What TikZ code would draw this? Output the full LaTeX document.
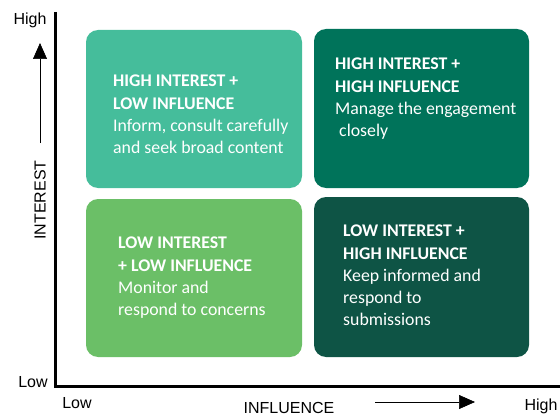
\documentclass[tikz,border=0pt]{standalone}
\usepackage{fontspec}
\setmainfont{Carlito}
\newfontfamily\axisfont{Liberation Sans}
\usetikzlibrary{positioning, arrows.meta}

\definecolor{hiLoCol}{HTML}{45BD9B}
\definecolor{hiHiCol}{HTML}{00735A}
\definecolor{loLoCol}{HTML}{6BBF67}
\definecolor{loHiCol}{HTML}{0E5445}

\begin{document}
\begin{tikzpicture}[x=1pt, y=1pt]
  \tikzstyle{quad}=[rounded corners=12pt, inner sep=0pt, outer sep=0pt, anchor=south west]
  \tikzstyle{quadtxt}=[anchor=north west, inner sep=0pt, align=left, text=white, font=\fontsize{17.8}{22.2}\selectfont]
  \tikzstyle{axislbl}=[inner sep=0pt, font=\axisfont\fontsize{16}{18}\selectfont]
  \tikzstyle{axarrow}=[semithick, -{Triangle[length=16pt, width=14pt]}]
  \useasboundingbox (0,0) rectangle (560,416);

  % quadrants
  \node (hiLoBox) at (86,228) [quad, fill=hiLoCol, minimum width=216pt, minimum height=158pt] {};
  \node (hiHiBox) at (314,228) [quad, fill=hiHiCol, minimum width=215pt, minimum height=159pt] {};
  \node (loLoBox) at (86,59) [quad, fill=loLoCol, minimum width=216pt, minimum height=158pt] {};
  \node (loHiBox) at (314,59) [quad, fill=loHiCol, minimum width=215pt, minimum height=160pt] {};

  % quadrant texts
  \node (hiLoTxt) at (113,341) [quadtxt] {\textbf{HIGH INTEREST +}\\\textbf{LOW INFLUENCE}\\Inform, consult carefully\\and seek broad content};
  \node (hiHiTxt) at (335,358) [quadtxt] {\textbf{HIGH INTEREST +}\\\textbf{HIGH INFLUENCE}\\Manage the engagement\\~closely};
  \node (loLoTxt) at (118,179) [quadtxt] {\textbf{LOW INTEREST}\\\textbf{+ LOW INFLUENCE}\\Monitor and\\respond to concerns};
  \node (loHiTxt) at (343,191) [quadtxt] {\textbf{LOW INTEREST +}\\\textbf{HIGH INFLUENCE}\\Keep informed and\\respond to\\submissions};

  % axes
  \coordinate (yTop) at (55,404);
  \coordinate (origin) at (55,30);
  \coordinate (xEnd) at (560,30);
  \draw[line width=3pt] (yTop) -- (origin) -- (xEnd);

  \node (yHigh) at (30,396) [axislbl] {High};
  \node (yLow) at (33,34) [axislbl] {Low};
  \node (yLabel) at (40,216) [axislbl, rotate=90] {INTEREST};
  \coordinate (yArrFrom) at (40,273);
  \coordinate (yArrTo) at (40,373);
  \draw[axarrow] (yArrFrom) -- (yArrTo);

  \node (xLow) at (77,13) [axislbl] {Low};
  \node (xLabel) at (289,8) [axislbl] {INFLUENCE};
  \node (xHigh) at (541,10) [axislbl] {High};
  \coordinate (xArrFrom) at (375,14);
  \coordinate (xArrTo) at (475,14);
  \draw[axarrow] (xArrFrom) -- (xArrTo);
\end{tikzpicture}
\end{document}
